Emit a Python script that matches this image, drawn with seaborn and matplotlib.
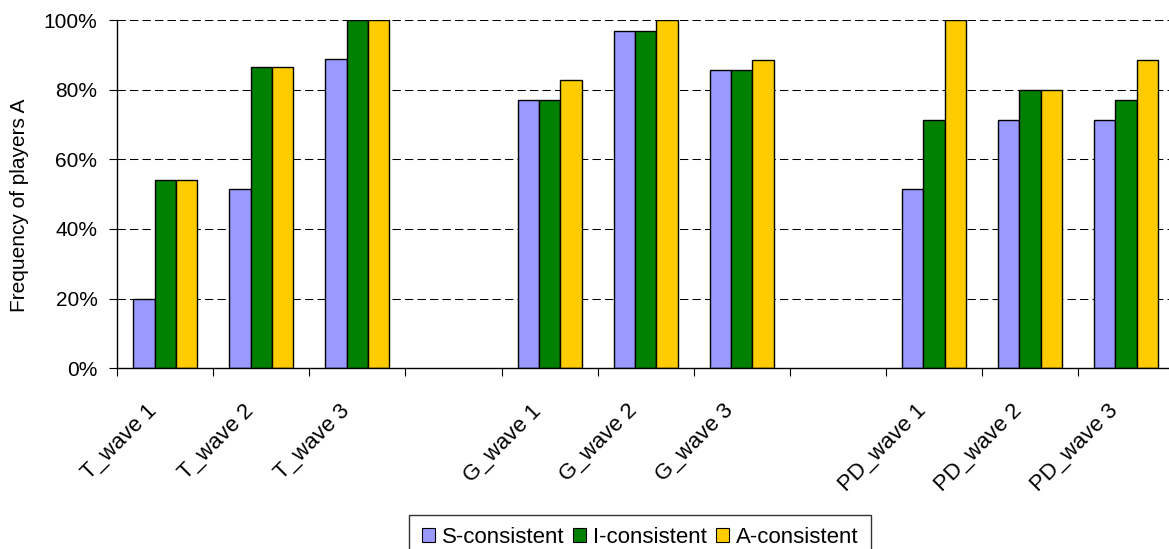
import numpy as np
import pandas as pd
import matplotlib
matplotlib.use("Agg")
import matplotlib.pyplot as plt
import matplotlib.transforms as mtransforms
from matplotlib.patches import Patch
import seaborn as sns

# Category slots along the x axis (two unlabeled spacer slots between games)
slots = ["T_wave 1", "T_wave 2", "T_wave 3", " ",
         "G_wave 1", "G_wave 2", "G_wave 3", "  ",
         "PD_wave 1", "PD_wave 2", "PD_wave 3"]
waves = ["T_wave 1", "T_wave 2", "T_wave 3",
         "G_wave 1", "G_wave 2", "G_wave 3",
         "PD_wave 1", "PD_wave 2", "PD_wave 3"]

series_names = ["S-consistent", "I-consistent", "A-consistent"]
s_consistent = [20.0, 51.4, 88.9, 77.1, 96.8, 85.7, 51.4, 71.4, 71.4]
i_consistent = [54.0, 86.5, 100.0, 77.1, 96.8, 85.7, 71.4, 80.0, 77.1]
a_consistent = [54.0, 86.5, 100.0, 82.9, 100.0, 88.6, 100.0, 80.0, 88.6]
series_colors = ["#9999FF", "#008000", "#FFCC00"]

y_ticks = [0, 20, 40, 60, 80, 100]
y_tick_labels = ["0%", "20%", "40%", "60%", "80%", "100%"]

df = pd.DataFrame({
    "wave": waves * 3,
    "freq": s_consistent + i_consistent + a_consistent,
    "series": [n for n in series_names for _ in waves],
})

sns.set_theme(style="white")
plt.rcParams["font.family"] = ["Liberation Sans", "DejaVu Sans"]
plt.rcParams["text.color"] = "black"
plt.rcParams["axes.labelcolor"] = "black"
plt.rcParams["xtick.color"] = "black"
plt.rcParams["ytick.color"] = "black"

W, H = 1169, 549
fig = plt.figure(figsize=(W / 100, H / 100), dpi=100)
ax = fig.add_axes([117.3 / W, 180.7 / H, 1056.7 / W, 348.3 / H])

sns.barplot(data=df, x="wave", y="freq", hue="series", order=slots,
            hue_order=series_names, palette=series_colors, width=0.667,
            edgecolor="black", linewidth=1.0, errorbar=None, legend=False,
            saturation=1.0, ax=ax)

ax.set_xlim(-0.5, len(slots) - 0.5)
ax.set_ylim(0, 100)

# Dashed horizontal grid behind the bars
ax.set_axisbelow(True)
ax.yaxis.grid(True, linestyle=(0, (8, 4)), color="black", linewidth=0.75)
ax.xaxis.grid(False)

for side in ["top", "right"]:
    ax.spines[side].set_visible(False)
for side in ["left", "bottom"]:
    ax.spines[side].set_color("black")
    ax.spines[side].set_linewidth(1.0)

# Y axis
ax.set_yticks(y_ticks)
ax.set_yticklabels(y_tick_labels, fontsize=15)
ax.tick_params(axis="y", which="major", direction="out", length=5.8,
               width=0.8, color="black", labelcolor="black", pad=8.5,
               left=True)
ax.set_ylabel("Frequency of players A", fontsize=15, color="black")
ax.yaxis.set_label_coords((20 - 117.3) / 1056.7, (368.3 - 205) / 348.3)
ax.yaxis.label.set_va("center")

# X axis: labels at slot centres, tick marks at slot boundaries
ax.set_xticks(range(len(slots)))
ax.set_xticklabels(slots, rotation=45, ha="right", va="top",
                   rotation_mode="default", fontsize=16, color="black")
ax.set_xticks(np.arange(-0.5, len(slots), 1.0), minor=True)
ax.tick_params(axis="x", which="major", length=0, pad=23.0, bottom=True)
ax.tick_params(axis="x", which="minor", direction="out", length=5.5,
               width=0.8, color="black", bottom=True)
ax.set_xlabel("")
shift = mtransforms.ScaledTranslation(-4 / 100, 0, fig.dpi_scale_trans)
for lab in ax.get_xticklabels():
    lab.set_transform(lab.get_transform() + shift)

# Legend below the axis
handles = [Patch(facecolor=c, edgecolor="black", linewidth=0.8)
           for c in series_colors]
leg = ax.legend(handles, series_names, loc="upper center",
                bbox_to_anchor=((640 - 117.3) / 1056.7, (368.3 - 515) / 348.3),
                ncol=3, fontsize=16, frameon=True, fancybox=False,
                edgecolor="black", handlelength=0.6, handleheight=0.6,
                handletextpad=0.3, columnspacing=0.4, borderpad=0.55,
                borderaxespad=0)
leg.get_frame().set_linewidth(1.0)
for t in leg.get_texts():
    t.set_color("black")

fig.savefig("out.png", dpi=100)
